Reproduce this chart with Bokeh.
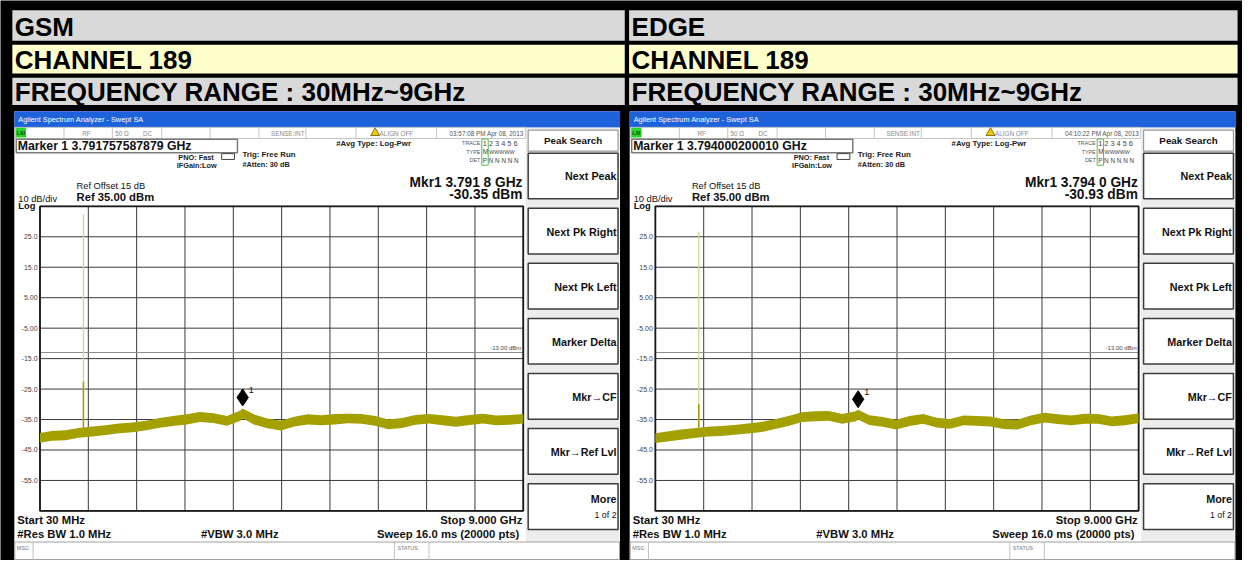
from bokeh.plotting import figure
from bokeh.models import Range1d
from bokeh.core.properties import value
from bokeh.embed import file_html
from bokeh.resources import INLINE

# ---------------- data ----------------
FREQ_MHZ = [30, 250, 500, 750, 1000, 1250, 1500, 1750, 2000, 2250, 2500, 2750, 3000, 3250,
            3500, 3750, 3790, 4000, 4250, 4500, 4750, 5000, 5250, 5500, 5750, 6000, 6250,
            6500, 6750, 7000, 7250, 7500, 7750, 8000, 8250, 8500, 8750, 9000]
GSM_HI = [-39.4, -38.8, -38.5, -37.8, -37.3, -36.9, -36.3, -36.0, -35.4, -34.5, -33.8, -33.3,
          -32.5, -32.9, -33.8, -32.0, -31.4, -33.3, -34.7, -35.4, -34.1, -33.3, -33.6, -33.2,
          -33.1, -33.2, -33.8, -35.0, -34.5, -33.5, -33.2, -33.6, -34.1, -33.5, -33.1, -33.7,
          -33.5, -33.2]
GSM_LO = [-42.6, -42.0, -41.8, -41.0, -40.6, -40.1, -39.5, -39.2, -38.5, -37.7, -37.1, -36.6,
          -35.8, -36.1, -37.0, -35.4, -34.6, -36.6, -37.9, -38.6, -37.3, -36.6, -36.9, -36.6,
          -36.2, -36.4, -37.0, -38.2, -37.8, -36.7, -36.3, -36.9, -37.4, -36.8, -36.3, -36.9,
          -36.7, -36.3]
EDGE_HI = [-39.5, -38.9, -38.3, -37.9, -37.4, -37.1, -36.8, -36.3, -35.8, -34.9, -33.8, -32.6,
           -32.3, -32.2, -33.2, -32.3, -31.8, -33.6, -34.2, -35.1, -33.8, -33.2, -34.4, -34.8,
           -33.7, -33.8, -34.0, -34.9, -35.1, -33.7, -32.8, -33.3, -33.7, -33.1, -33.2, -34.0,
           -33.6, -32.9]
EDGE_LO = [-42.7, -42.2, -41.6, -41.1, -40.6, -40.4, -40.0, -39.6, -39.1, -38.1, -37.1, -35.8,
           -35.6, -35.4, -36.4, -35.6, -35.0, -36.8, -37.4, -38.3, -37.1, -36.4, -37.6, -38.0,
           -36.9, -37.0, -37.3, -38.1, -38.3, -36.9, -36.0, -36.5, -36.9, -36.4, -36.4, -37.2,
           -36.9, -36.1]
SPIKE_F = 836.4
GSM_SPIKE = [32.3, -22.5]
EDGE_SPIKE = [26.7, -30.0]
MARKER_F = [3791.757587879, 3794.000200010]
MARKER_DB = [-30.35, -30.93]
LIMIT_DB = -13.0

X_GRID = [30, 927, 1824, 2721, 3618, 4515, 5412, 6309, 7206, 8103, 9000]
Y_GRID = [35, 25, 15, 5, -5, -15, -25, -35, -45, -55, -65]
Y_TICKS = [25, 15, 5, -5, -15, -25, -35, -45, -55]
Y_LABELS = ["25.0", "15.0", "5.00", "-5.00", "-15.0", "-25.0", "-35.0", "-45.0", "-55.0"]

HEAD_ROWS = [("GSM", "EDGE"), ("CHANNEL 189", "CHANNEL 189"),
             ("FREQUENCY RANGE : 30MHz~9GHz", "FREQUENCY RANGE : 30MHz~9GHz")]
MARKER_TXT = ["Marker 1 3.791757587879 GHz", "Marker 1 3.794000200010 GHz"]
TIME_TXT = ["03:57:08 PM Apr 08, 2013", "04:10:22 PM Apr 08, 2013"]
MKR_TXT = ["Mkr1 3.791 8 GHz", "Mkr1 3.794 0 GHz"]
MKR_VAL = ["-30.35 dBm", "-30.93 dBm"]
SOFTKEYS = ["Next Peak", "Next Pk Right", "Next Pk Left", "Marker Delta", "Mkr\u2192CF",
            "Mkr\u2192Ref Lvl", "More"]

# ---------------- figure ----------------
W, H = 1242, 560          # canvas size
RW, RH = 1258, 576        # layout coordinate space
FS = 0.98                 # font scale for the slight shrink
p = figure(width=W, height=H, x_range=Range1d(0, RW), y_range=Range1d(RH, 0),
           output_backend="svg", toolbar_location=None, min_border=0,
           x_axis_type=None, y_axis_type=None)
p.outline_line_color = None
p.background_fill_color = "black"
p.border_fill_color = "black"
for g in p.grid:
    g.visible = False

FONT = value("Liberation Sans")


def T(x, y, s, size, bold=False, align="left", color="#000000", baseline="middle", **kw):
    p.text(x=[x], y=[y], text=[s], text_font=FONT, text_font_size=f"{size * FS:.2f}px",
           text_font_style="bold" if bold else "normal", text_align=align,
           text_baseline=baseline, text_color=color, **kw)


def Q(l, r, t, b, fill="white", line=None, lw=1.0, **kw):
    p.quad(left=[l], right=[r], top=[t], bottom=[b], fill_color=fill,
           line_color=line, line_width=lw, **kw)


# ---------------- header table ----------------
ROW_Y = [(10, 41.5), (45.5, 75), (79.5, 107.5)]
ROW_FILL = ["#d9d9d9", "#ffffcc", "#d9d9d9"]
COL_X = [(12, 632.3), (636.7, 1253)]
for (t, b), fill, texts in zip(ROW_Y, ROW_FILL, HEAD_ROWS):
    for (l, r), s in zip(COL_X, texts):
        Q(l, r, t, b, fill=fill)
        T(l + 2.5, (t + b) / 2 + 1, s, 26.5, bold=True)

# ---------------- analyzer panels ----------------
PX0, PX1, PY0, PY1 = 40.0, 529.5, 211.7, 525.0
DX = 623.3

for i in range(2):
    ox = i * DX
    xn, yn = f"f{i}", f"db{i}"
    kx = (9000 - 30) / (PX1 - PX0)
    p.extra_x_ranges[xn] = Range1d(30 + (0 - (PX0 + ox)) * kx, 30 + (RW - (PX0 + ox)) * kx)
    ky = 100 / (PY1 - PY0)
    p.extra_y_ranges[yn] = Range1d(35 - (RH - PY0) * ky, 35 + PY0 * ky)

    # screenshot background
    Q(ox + 14, ox + 627.5, 114, 580, fill="white")
    # title bar
    Q(ox + 14, ox + 627.5, 114, 130.5, fill="#1d62da")
    T(ox + 18, 122.5, "Agilent Spectrum Analyzer - Swept SA", 7.5, color="white")
    # status row
    Q(ox + 15, ox + 531.7, 130.5, 142, fill="white", line="#c4c4c4")
    for sx in [64.3, 113.3, 163.3, 212.3, 261.7, 309.3, 360, 441.7]:
        p.segment(x0=[ox + sx], y0=[131], x1=[ox + sx], y1=[141.5], line_color="#c4c4c4", line_width=1)
    Q(ox + 15.5, ox + 26, 131, 141, fill="#2bd62b")
    T(ox + 20.7, 136.2, "LXI", 5.5, bold=True, align="center", color="#114411")
    for sx, s in [(87, "RF"), (123, "50 \u03a9"), (149, "DC")]:
        T(ox + sx, 136.5, s, 6.5, align="center", color="#8a8a8a")
    T(ox + 308, 136.5, "SENSE:INT", 6.5, align="right", color="#8a8a8a")
    p.scatter(x=[ox + 379.5], y=[136.2], marker="triangle", size=9, fill_color="#f2c800",
              line_color="#6a5a00", line_width=0.8)
    T(ox + 384, 136.5, "ALIGN OFF", 6.5, color="#8a8a8a")
    T(ox + 530, 136.5, TIME_TXT[i], 6.5, align="right", color="#555555")

    # marker line
    Q(ox + 16, ox + 240, 142.7, 156.5, fill="white", line="#7a7a7a", lw=1.5)
    T(ox + 17.5, 150, MARKER_TXT[i], 12.5, bold=True, color="#111111")
    T(ox + 216, 161, "PNO: Fast", 7.5, bold=True, align="right", color="#222222")
    T(ox + 219, 170, "IFGain:Low", 7.5, bold=True, align="right", color="#222222")
    Q(ox + 224, ox + 237, 157.5, 163.5, fill=None, line="#444444", lw=1)
    T(ox + 245, 158, "Trig: Free Run", 8, bold=True, color="#222222")
    T(ox + 245, 168.5, "#Atten: 30 dB", 7.5, bold=True, color="#222222")
    T(ox + 340, 147.5, "#Avg Type: Log-Pwr", 8, bold=True, color="#222222")
    T(ox + 486, 146.5, "TRACE", 5.5, align="right", color="#555555")
    T(ox + 486, 155.5, "TYPE", 5.5, align="right", color="#555555")
    T(ox + 486, 164.5, "DET", 5.5, align="right", color="#555555")
    Q(ox + 487.5, ox + 494, 142.5, 169.5, fill=None, line="#55bb55", lw=1)
    T(ox + 488.5, 147, "1 2 3 4 5 6", 7.5, color="#444444")
    T(ox + 488.5, 155.5, "M", 6.5, color="#444444")
    T(ox + 495, 155.5, "WWWWW", 5.5, color="#444444")
    T(ox + 488.5, 164.5, "P  N N N N N", 6.5, color="#444444")

    T(ox + 528.7, 187.5, MKR_TXT[i], 14, bold=True, align="right", color="#111111")
    T(ox + 528.7, 199.5, MKR_VAL[i], 14, bold=True, align="right", color="#111111")
    T(ox + 77, 191, "Ref Offset 15 dB", 9.5, color="#111111")
    T(ox + 77, 202.5, "Ref 35.00 dBm", 11.5, bold=True, color="#111111")
    T(ox + 18, 204, "10 dB/div", 9.5, color="#111111")
    T(ox + 18, 211.5, "Log", 9.5, bold=True, color="#111111")

    # softkey panel
    Q(ox + 532, ox + 627, 131, 557, fill="#ececec")
    Q(ox + 534.5, ox + 625.5, 133.3, 155, fill="white", line="#9a9a9a", lw=1.2)
    T(ox + 580, 144, "Peak Search", 10, bold=True, align="center", color="#111111")
    for k, lab in enumerate(SOFTKEYS):
        top = 157 + 56.67 * k
        Q(ox + 534.5, ox + 625.5, top, top + 47, fill="white", line="#3c3c3c", lw=1.5)
        if lab == "More":
            T(ox + 624, top + 16, lab, 11, bold=True, align="right", color="#111111")
            T(ox + 624, top + 32, "1 of 2", 9, align="right", color="#111111")
        else:
            T(ox + 624, top + 24, lab, 11, bold=True, align="right", color="#111111")

    # plot grid and frame
    for gx in X_GRID:
        p.segment(x0=[gx], y0=[Y_GRID[0]], x1=[gx], y1=[Y_GRID[-1]], line_color="#3a3a3a",
                  line_width=1, x_range_name=xn, y_range_name=yn)
    for gy in Y_GRID:
        p.segment(x0=[X_GRID[0]], y0=[gy], x1=[X_GRID[-1]], y1=[gy], line_color="#3a3a3a",
                  line_width=1, x_range_name=xn, y_range_name=yn)
    p.segment(x0=[X_GRID[0]], y0=[LIMIT_DB], x1=[X_GRID[-1]], y1=[LIMIT_DB],
              line_color="#8c8c8c", line_width=1, x_range_name=xn, y_range_name=yn)
    p.text(x=[X_GRID[-1]], y=[LIMIT_DB], text=["-13.00 dBm"], text_font=FONT,
           text_font_size="6px", text_align="right", text_baseline="bottom",
           text_color="#444444", x_offset=-2, y_offset=-2, x_range_name=xn, y_range_name=yn)
    p.quad(left=[X_GRID[0]], right=[X_GRID[-1]], top=[Y_GRID[0]], bottom=[Y_GRID[-1]],
           fill_color=None, line_color="#1a1a1a", line_width=1.8,
           x_range_name=xn, y_range_name=yn)
    p.text(x=[ox + 37.5] * len(Y_TICKS), y=Y_TICKS, text=Y_LABELS, text_font=FONT,
           text_font_size="7px", text_align="right", text_baseline="middle",
           text_color="#444444", y_range_name=yn)

    # trace
    hi, lo = (GSM_HI, GSM_LO) if i == 0 else (EDGE_HI, EDGE_LO)
    spike = GSM_SPIKE if i == 0 else EDGE_SPIKE
    p.varea(x=FREQ_MHZ, y1=lo, y2=hi, fill_color="#a3a000", x_range_name=xn, y_range_name=yn)
    p.segment(x0=[SPIKE_F], y0=[hi[3]], x1=[SPIKE_F], y1=[spike[0]], line_color="#d6d48c",
              line_width=1.3, x_range_name=xn, y_range_name=yn)
    p.segment(x0=[SPIKE_F], y0=[hi[3]], x1=[SPIKE_F], y1=[spike[1]], line_color="#a3a000",
              line_width=1.5, x_range_name=xn, y_range_name=yn)

    # marker
    p.scatter(x=[MARKER_F[i]], y=[MARKER_DB[i] + 2.6], marker="diamond", size=17,
              fill_color="black", line_color="black", x_range_name=xn, y_range_name=yn)
    p.text(x=[MARKER_F[i]], y=[MARKER_DB[i]], text=["1"], text_font=FONT, text_font_size="9px",
           text_align="left", text_baseline="middle", text_color="#111111",
           x_offset=6, y_offset=-15, x_range_name=xn, y_range_name=yn)

    # bottom annotations
    T(ox + 17, 534.5, "Start 30 MHz", 11.5, bold=True, color="#111111")
    T(ox + 528.5, 534.5, "Stop 9.000 GHz", 11.5, bold=True, align="right", color="#111111")
    T(ox + 17, 548.5, "#Res BW 1.0 MHz", 11.5, bold=True, color="#111111")
    T(ox + 203, 548.5, "#VBW 3.0 MHz", 11.5, bold=True, color="#111111")
    T(ox + 528.5, 548.5, "Sweep  16.0 ms (20000 pts)", 11.5, bold=True, align="right",
      color="#111111")

    # message bar
    Q(ox + 14.5, ox + 627, 557, 575, fill="white", line="#a0a0a0", lw=1)
    for sx in [33, 399, 434]:
        p.segment(x0=[ox + sx], y0=[557], x1=[ox + sx], y1=[575], line_color="#c0c0c0", line_width=1)
    T(ox + 16.5, 563, "MSG", 5.5, color="#777777")
    T(ox + 402, 563, "STATUS", 5.5, color="#777777")

open("out.html", "w").write(file_html(p, INLINE))
